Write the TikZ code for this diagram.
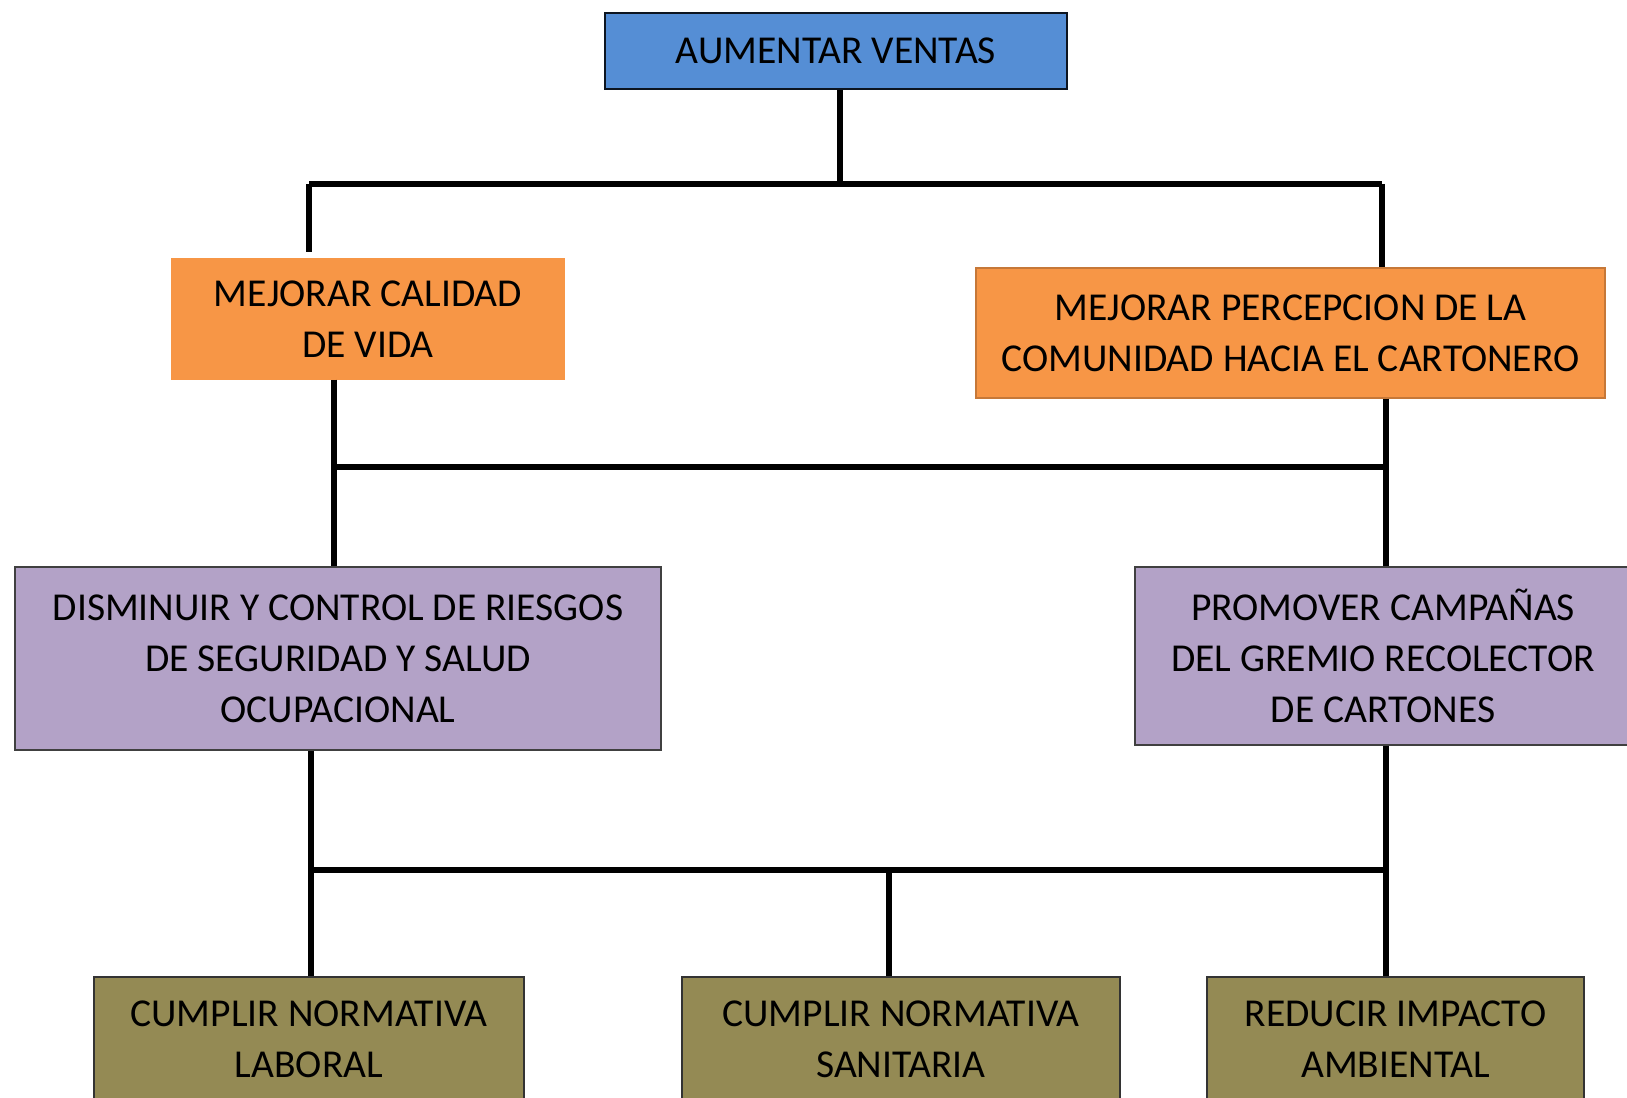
\documentclass[tikz,border=0pt]{standalone}
\usepackage{fontspec}
\setmainfont{Carlito}
\definecolor{azul}{HTML}{558ED5}
\definecolor{naranja}{HTML}{F79646}
\definecolor{lila}{HTML}{B3A2C7}
\definecolor{oliva}{HTML}{948A54}
\tikzset{
    caja/.style = {draw, line width=0.8pt, align=center, inner sep=0pt, text=black,
        font=\fontsize{22.5}{29}\selectfont},
    barra/.style = {line width=3pt}
}
\begin{document}
\begin{tikzpicture}[x = 0.02cm, y = -0.02cm]
    \clip (0,0) rectangle (1627,1098);
    \node[caja, fill=azul, draw=black!85!azul, minimum width=9.24cm, minimum height=1.52cm] (ventas) at (836,51) {AUMENTAR VENTAS};
    \node[caja, fill=naranja, draw=naranja, minimum width=7.84cm, minimum height=2.4cm] (calidad) at (368,319) {MEJORAR CALIDAD\\DE VIDA};
    \node[caja, fill=naranja, draw=naranja!80!black, minimum width=12.58cm, minimum height=2.6cm] (percepcion) at (1290.5,333) {MEJORAR PERCEPCION DE LA\\COMUNIDAD HACIA EL CARTONERO};
    \node[caja, fill=lila, draw=black!75, minimum width=12.92cm, minimum height=3.66cm] (riesgos) at (338,658.5) {DISMINUIR Y CONTROL DE RIESGOS\\DE SEGURIDAD Y SALUD\\OCUPACIONAL};
    \node[caja, fill=lila, draw=black!75, minimum width=9.92cm, minimum height=3.56cm] (campanas) at (1383,656) {PROMOVER CAMPAÑAS\\DEL GREMIO RECOLECTOR\\DE CARTONES};
    \node[caja, fill=oliva, draw=black!80, minimum width=8.6cm, minimum height=2.5cm] (laboral) at (309,1039.5) {CUMPLIR NORMATIVA\\LABORAL};
    \node[caja, fill=oliva, draw=black!80, minimum width=8.76cm, minimum height=2.5cm] (sanitaria) at (901,1039.5) {CUMPLIR NORMATIVA\\SANITARIA};
    \node[caja, fill=oliva, draw=black!80, minimum width=7.54cm, minimum height=2.5cm] (ambiental) at (1395.5,1039.5) {REDUCIR IMPACTO\\AMBIENTAL};

    \coordinate (a1) at (309,184);
    \coordinate (a2) at (1382,184);
    \coordinate (a3) at (309,252);
    \coordinate (b1) at (334,467);
    \coordinate (b2) at (1386,467);
    \coordinate (c1) at (311,870);
    \coordinate (c2) at (1386,870);

    \draw[barra]
    (ventas.south -| 840,0) -- (840,184)
    (a1) -- (a2) (a1) -- (a3) (a2) -- (a2 |- percepcion.north);
    \draw[barra]
    (b1 |- calidad.south) -- (b1) -- (b2) (b2 |- percepcion.south) -- (b2)
    (b1) -- (b1 |- riesgos.north) (b2) -- (b2 |- campanas.north);
    \draw[barra]
    (c1 |- riesgos.south) -- (c1) -- (c2) (c2 |- campanas.south) -- (c2)
    (c1) -- (laboral.north -| c1) (889,870) -- (889,0 |- sanitaria.north) (c2) -- (ambiental.north -| c2);
\end{tikzpicture}
\end{document}
